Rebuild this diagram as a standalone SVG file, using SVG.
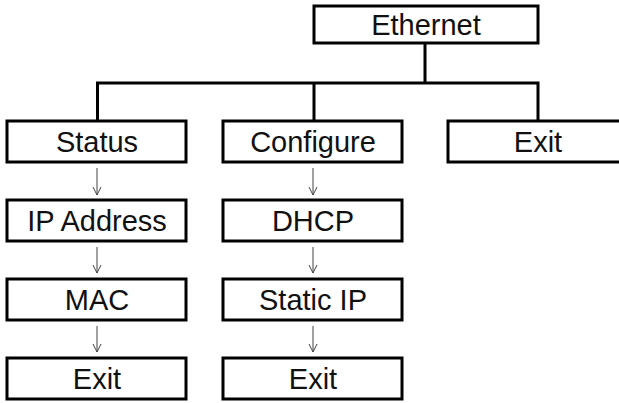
<svg xmlns="http://www.w3.org/2000/svg" width="619" height="403" viewBox="0 0 619 403">
<style>
.box{fill:#fff;stroke:#000;stroke-width:3}
.lbl{font-family:"Liberation Sans",Arial,sans-serif;font-size:29px;fill:#111;text-anchor:middle}
.tree{fill:none;stroke:#000;stroke-width:3}
.arr{fill:none;stroke:#444;stroke-width:1;marker-end:url(#ah)}
</style>
<defs>
<marker id="ah" markerWidth="10" markerHeight="10" refX="9" refY="5" orient="auto" markerUnits="userSpaceOnUse" viewBox="0 0 10 10">
<path d="M1,1 L9,5 L1,9" fill="none" stroke="#444" stroke-width="1"/>
</marker>
</defs>
<rect width="619" height="403" fill="#fff"/>
<g id="connectors">
<path class="tree" d="M425,43 V83 M96,83 H539.5 M97.5,83 V121 M314,83 V121 M538,83 V121"/>
<path class="arr" d="M97,168 V195"/>
<path class="arr" d="M97,247 V273"/>
<path class="arr" d="M97,326 V352"/>
<path class="arr" d="M313,168 V195"/>
<path class="arr" d="M313,247 V273"/>
<path class="arr" d="M313,326 V352"/>
</g>
<g id="n-ethernet"><rect class="box" x="314" y="6" width="224" height="37"/><text class="lbl" x="426" y="35">Ethernet</text></g>
<g id="n-status"><rect class="box" x="7" y="121" width="179" height="41"/><text class="lbl" x="97" y="152">Status</text></g>
<g id="n-configure"><rect class="box" x="223" y="121" width="179" height="41"/><text class="lbl" x="313" y="152">Configure</text></g>
<g id="n-exit-top"><rect class="box" x="448" y="121" width="182" height="41"/><text class="lbl" x="538" y="152">Exit</text></g>
<g id="n-ip"><rect class="box" x="7" y="200" width="179" height="41"/><text class="lbl" x="97" y="231">IP Address</text></g>
<g id="n-mac"><rect class="box" x="7" y="279" width="179" height="41"/><text class="lbl" x="97" y="310">MAC</text></g>
<g id="n-exit-status"><rect class="box" x="7" y="358" width="179" height="41"/><text class="lbl" x="97" y="389">Exit</text></g>
<g id="n-dhcp"><rect class="box" x="223" y="200" width="179" height="41"/><text class="lbl" x="313" y="231">DHCP</text></g>
<g id="n-static"><rect class="box" x="223" y="279" width="179" height="41"/><text class="lbl" x="313" y="310">Static IP</text></g>
<g id="n-exit-config"><rect class="box" x="223" y="358" width="179" height="41"/><text class="lbl" x="313" y="389">Exit</text></g>
</svg>
